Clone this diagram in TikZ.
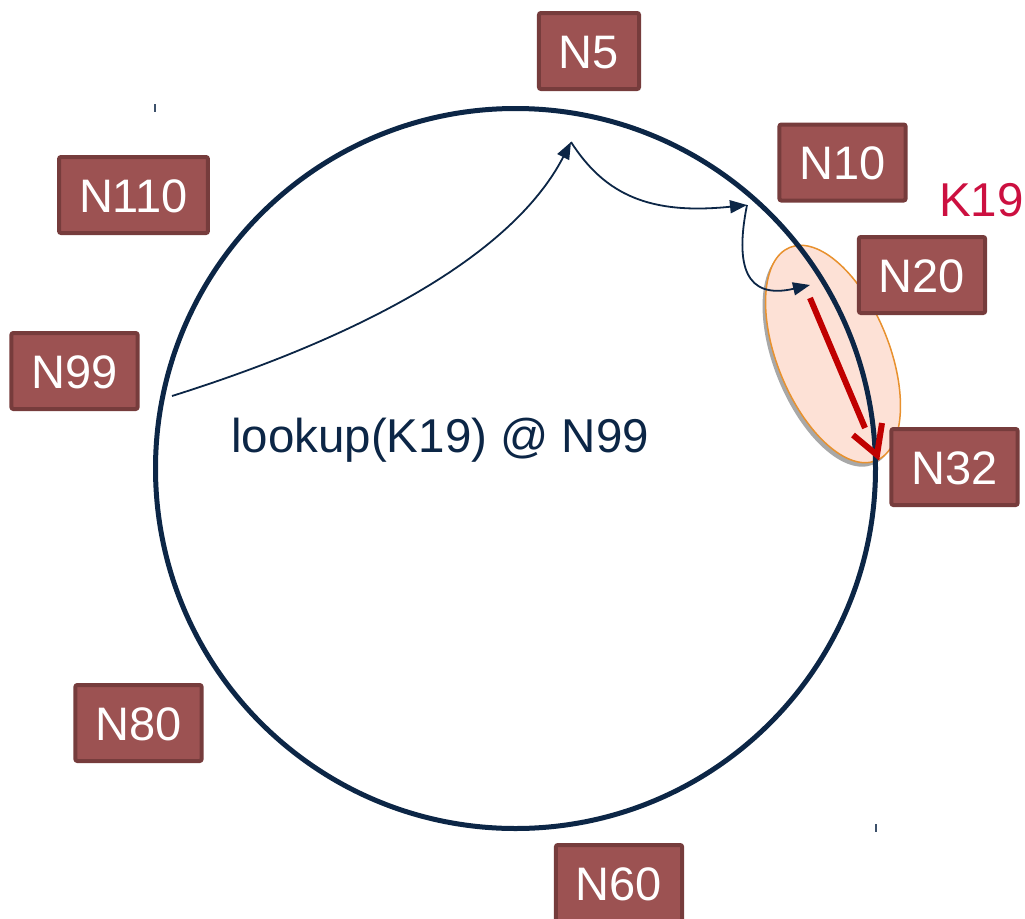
\documentclass[tikz,border=0pt]{standalone}
\usepackage{fontspec}
\setmainfont{Liberation Sans}
\usetikzlibrary{arrows.meta}
\definecolor{ringnavy}{HTML}{0C2646}
\definecolor{boxfill}{HTML}{9C5252}
\definecolor{boxedge}{HTML}{763C3C}
\definecolor{keyred}{HTML}{CC1040}
\definecolor{hopred}{HTML}{C00000}
\definecolor{zonefill}{HTML}{FDE1D6}
\definecolor{zoneedge}{HTML}{E8912E}
\definecolor{zoneshadow}{HTML}{A8A8A8}
\begin{document}
\begin{tikzpicture}[x=1pt,y=-1pt,
  peer/.style={draw=boxedge, fill=boxfill, line width=4pt, rounded corners=2pt,
    text=white, font=\fontsize{47}{47}\selectfont, inner xsep=20pt, inner ysep=0pt,
    minimum height=76pt, text height=34pt, text depth=0pt},
  hop/.style={draw=ringnavy, line width=1.8pt, -{Triangle[length=17pt,width=13pt]}},
  hopfinal/.style={draw=hopred, line width=6pt, miter limit=10},
  bigtext/.style={font=\fontsize{47.5}{47.5}\selectfont, inner sep=0pt},
  tick/.style={draw=ringnavy!80, line width=1.6pt}
]
\useasboundingbox (0,0) rectangle (1025,918);

% responsibility zone of key K19
\begin{scope}[shift={(830,358)}, rotate=22]
  \fill[zoneshadow] (0,0) ellipse [x radius=56pt, y radius=115pt];
\end{scope}
\begin{scope}[shift={(833,354)}, rotate=22]
  \draw[fill=zonefill, draw=zoneedge, line width=1.5pt] (0,0) ellipse [x radius=56pt, y radius=115pt];
\end{scope}

% identifier ring
\draw[ringnavy, line width=5pt] (515.5,468.5) circle [radius=360pt];
\draw[tick] (155,104) -- (155,112);
\draw[tick] (876,824) -- (876,832);

% lookup hops
\coordinate (h0) at (172,396);
\coordinate (h1) at (571,142);
\coordinate (h2) at (747,205);
\coordinate (h3) at (810,285);
\draw[hop] (h0) .. controls (350,340) and (510,260) .. (h1);
\draw[hop] (h1) .. controls (605,195) and (650,215) .. (h2);
\draw[hop] (h2) .. controls (735,265) and (745,300) .. (h3);

% final hop to the successor
\coordinate (r0) at (810,298);
\coordinate (r1) at (865,428);
\coordinate (rtip) at (877,455);
\coordinate (rarmL) at (853,435);
\coordinate (rarmR) at (882,423);
\draw[hopfinal] (r0) -- (r1);
\draw[hopfinal] (rarmL) -- (rtip) -- (rarmR);

% nodes on the ring
\node[peer] (n5) at (589,51) {N5};
\node[peer] (n10) at (842.5,162.5) {N10};
\node[peer] (n110) at (133.5,195) {N110};
\node[peer] (n20) at (922,275) {N20};
\node[peer] (n99) at (74.5,371) {N99};
\node[peer] (n32) at (954.5,467) {N32};
\node[peer] (n80) at (138.5,723) {N80};
\node[peer] (n60) at (619,883) {N60};

% labels
\node[bigtext, text=keyred, anchor=base west] (k19) at (939,216) {K19};
\node[bigtext, text=ringnavy, anchor=base west] (lookup) at (231,452) {lookup(K19) @ N99};
\end{tikzpicture}
\end{document}
